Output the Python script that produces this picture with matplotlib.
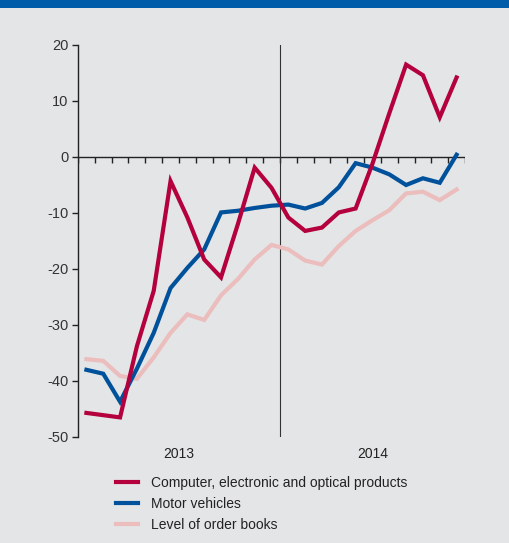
import matplotlib
matplotlib.use("Agg")
import matplotlib.pyplot as plt
from matplotlib.patches import Rectangle

plt.rcParams['font.family'] = ['Liberation Sans', 'DejaVu Sans']
plt.rcParams['axes.unicode_minus'] = False

# monthly data, Jan 2013 - Nov 2014
computer = [-45.7, -46.1, -46.5, -33.8, -23.9, -4.3, -10.8, -18.3, -21.5, -12.0,
            -1.9, -5.5, -10.8, -13.2, -12.6, -9.9, -9.2, -1.2, 7.8, 16.5,
            14.6, 7.1, 14.2]
motor = [-38.0, -38.7, -43.7, -37.8, -31.4, -23.4, -19.8, -16.5, -9.9, -9.6,
         -9.1, -8.7, -8.5, -9.2, -8.2, -5.4, -1.1, -1.9, -3.1, -5.0,
         -3.8, -4.6, 0.4]
order_books = [-36.1, -36.4, -39.1, -39.6, -35.8, -31.4, -28.1, -29.1, -24.7, -21.8,
               -18.3, -15.7, -16.5, -18.5, -19.2, -15.9, -13.2, -11.3, -9.5, -6.5,
               -6.2, -7.7, -5.8]
years = ['2013', '2014']
labels = ['Computer, electronic and optical products', 'Motor vehicles', 'Level of order books']
colors = ['#b4003c', '#00519b', '#ebbdbd']

bg = '#e4e5e7'
fig = plt.figure(figsize=(5.1, 5.43), dpi=100, facecolor=bg)
fig.patches.append(Rectangle((0, 1 - 8 / 543), 1, 8 / 543, transform=fig.transFigure,
                             facecolor='#005ca8', edgecolor='none'))

ax = fig.add_axes([78 / 510, 106 / 543, 387 / 510, 392 / 543], facecolor=bg)

n = len(computer)
x = [i + 0.5 for i in range(n)]
# draw order: pink below, then blue, red on top
ax.plot(x, order_books, color=colors[2], lw=3, solid_joinstyle='miter', zorder=3)
ax.plot(x, motor, color=colors[1], lw=3, solid_joinstyle='miter', zorder=4)
ax.plot(x, computer, color=colors[0], lw=3, solid_joinstyle='miter', zorder=5)

ax.set_xlim(0, n)
ax.set_ylim(-50, 20)

# zero line with month ticks
ax.axhline(0, color='#222222', lw=1, zorder=2)
ax.vlines(range(n + 1), -1.0, 0, color='#222222', lw=1, zorder=2)
# year separator
ax.axvline(12, color='#333333', lw=0.8, zorder=2)

for s in ['top', 'right', 'bottom']:
    ax.spines[s].set_visible(False)
ax.spines['left'].set_color('#222222')
ax.spines['left'].set_linewidth(1)

ax.set_yticks(range(-50, 21, 10))
ax.tick_params(axis='y', length=4, width=1, color='#222222', labelcolor='#333333',
               labelsize=10.5, pad=3)
ax.set_xticks([])

ax.text(6, -51.8, years[0], ha='center', va='top', fontsize=10, color='#222222')
ax.text(n - 5.5, -51.8, years[1], ha='center', va='top', fontsize=10, color='#222222')

handles = [plt.Line2D([], [], color=c, lw=3) for c in colors]
fig.legend(handles, labels, loc='upper left', bbox_to_anchor=(116 / 510, 1 - 476 / 543),
           frameon=False, fontsize=10, borderpad=0, borderaxespad=0,
           handlelength=1.6, handletextpad=0.9, labelspacing=0.5,
           labelcolor='#222222')

fig.savefig('out.png', dpi=100, facecolor=bg)
